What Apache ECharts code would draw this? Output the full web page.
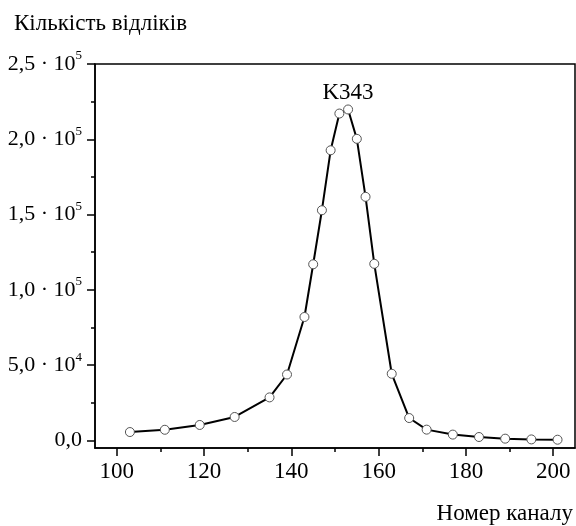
<!DOCTYPE html>
<html>
<head>
<meta charset="utf-8">
<script src="https://cdn.jsdelivr.net/npm/echarts@6/dist/echarts.min.js"></script>
<style>
html,body{margin:0;padding:0;background:#fff;}
#chart{width:576px;height:526px;}
</style>
</head>
<body>
<div id="chart"></div>
<script>
var channels = [103,111,119,127,135,139,143,145,147,149,151,153,155,157,159,163,167,171,177,183,189,195,201];
var counts = [5600,7100,10300,15600,28600,43800,82000,117000,152900,192700,217100,219800,200300,161800,117300,44300,14900,7200,3900,2300,1200,700,500];
var xMajor = [100,120,140,160,180,200];
var xMinor = [110,130,150,170,190];
var yMajor = [0,50000,100000,150000,200000,250000];
var yMinor = [25000,75000,125000,175000,225000];
var yLabels = {0:'0,0', 50000:'5,0', 100000:'1,0', 150000:'1,5', 200000:'2,0', 250000:'2,5'};
var yExp = {50000:'4', 100000:'5', 150000:'5', 200000:'5', 250000:'5'};
var titleY = 'Кількість відліків';
var titleX = 'Номер каналу';
var peakName = 'K343';

var FONT = '"Liberation Serif", "DejaVu Serif", serif';
var chart = echarts.init(document.getElementById('chart'), null, {renderer:'canvas'});

var xBase = {
  type:'value', min:95, max:205, position:'bottom',
  axisLine:{show:true, onZero:false, lineStyle:{color:'#000', width:1.5}},
  splitLine:{show:false}
};
var yBase = {
  type:'value', min:-5000, max:250000, position:'left',
  axisLine:{show:true, onZero:false, lineStyle:{color:'#000', width:1.5}},
  splitLine:{show:false}
};

chart.setOption({
  animation:false,
  backgroundColor:'#fff',
  grid:{left:95, right:1, top:64, bottom:78, show:true, borderColor:'#000', borderWidth:1.5, backgroundColor:'transparent'},
  title:[
    {text:titleY, left:9, top:7, textStyle:{fontFamily:FONT, fontSize:23, fontWeight:'normal', color:'#000'}},
    {text:titleX, right:-2, top:497, textStyle:{fontFamily:FONT, fontSize:23, fontWeight:'normal', color:'#000'}},
    {text:peakName, left:343, top:76, textAlign:'center', textStyle:{fontFamily:FONT, fontSize:23, fontWeight:'normal', color:'#000'}}
  ],
  xAxis:[
    Object.assign({}, xBase, {
      axisTick:{show:true, inside:false, length:8, lineStyle:{color:'#000', width:1.5}, customValues:xMajor},
      axisLabel:{show:true, margin:12, customValues:xMajor, fontFamily:FONT, fontSize:23, color:'#000'}
    }),
    Object.assign({}, xBase, {
      axisLine:{show:false, onZero:false},
      axisTick:{show:true, inside:false, length:4, lineStyle:{color:'#000', width:1.5}, customValues:xMinor},
      axisLabel:{show:false}
    })
  ],
  yAxis:[
    Object.assign({}, yBase, {
      axisTick:{show:true, inside:false, length:8, lineStyle:{color:'#000', width:1.5}, customValues:yMajor},
      axisLabel:{
        show:true, margin:13, customValues:yMajor,
        formatter:function(v){
          if (v === 0) return '{a|0,0}';
          return '{a|' + yLabels[v] + ' · 10}{s|' + yExp[v] + '}';
        },
        rich:{
          a:{fontFamily:FONT, fontSize:22, color:'#000'},
          s:{fontFamily:FONT, fontSize:13, color:'#000', verticalAlign:'top', padding:[0,0,16,0]}
        }
      }
    }),
    Object.assign({}, yBase, {
      axisLine:{show:false, onZero:false},
      axisTick:{show:true, inside:false, length:4, lineStyle:{color:'#000', width:1.5}, customValues:yMinor},
      axisLabel:{show:false}
    })
  ],
  series:[{
    type:'line',
    xAxisIndex:0, yAxisIndex:0,
    data:channels.map(function(c,i){return [c, counts[i]];}),
    symbol:'circle', symbolSize:9,
    lineStyle:{color:'#000', width:2},
    itemStyle:{color:'#fff', borderColor:'#555', borderWidth:1},
    z:3
  }]
});
</script>
</body>
</html>
